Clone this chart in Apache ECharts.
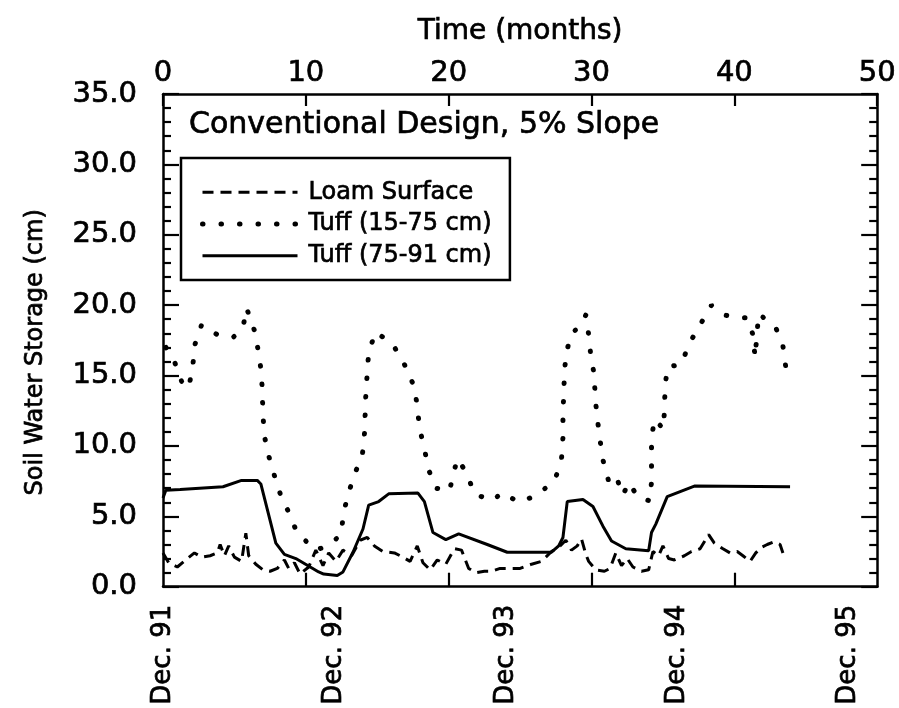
<!DOCTYPE html>
<html>
<head>
<meta charset="utf-8">
<script src="https://cdn.jsdelivr.net/npm/echarts@6/dist/echarts.min.js"></script>
<style>
  html, body { margin: 0; padding: 0; background: #fff; }
  #chart { width: 899px; height: 708px; }
</style>
</head>
<body>
<div id="chart"></div>
<script>
// [month, storage cm]
var loamSurface = [
    [0, 2.4], [0.4, 1.7], [1.0, 1.4], [1.7, 2.0], [2.2, 2.4], [2.7, 2.1], [3.3, 2.2], [3.8, 2.4],
    [4.0, 3.0], [4.3, 2.2], [4.6, 2.9], [5.0, 2.1], [5.5, 1.8], [5.8, 3.8], [6.0, 2.2], [6.5, 1.6],
    [7.0, 1.2], [7.5, 1.1], [8.0, 1.3], [8.5, 1.9], [8.8, 1.3], [9.2, 1.7], [9.6, 0.9], [10.2, 1.4],
    [10.7, 2.6], [11.2, 1.5], [11.6, 2.4], [12.1, 1.8], [12.6, 2.6], [13.2, 2.2], [13.8, 3.3], [14.3, 3.5],
    [14.8, 2.9], [15.4, 2.5], [16.2, 2.4], [16.8, 2.1], [17.3, 1.8], [17.8, 2.9], [18.2, 1.7], [18.7, 1.2],
    [19.2, 1.9], [19.8, 1.6], [20.4, 2.7], [20.9, 2.6], [21.4, 1.3], [21.9, 1.0], [22.5, 1.1], [23.0, 1.1],
    [23.6, 1.3], [24.3, 1.3], [25.0, 1.3], [25.8, 1.6], [26.5, 1.8], [27.2, 2.5], [27.8, 2.9], [28.2, 3.3],
    [28.6, 2.6], [29.0, 2.9], [29.3, 3.4], [29.6, 2.3], [29.8, 1.8], [30.3, 1.2], [30.9, 1.1], [31.3, 1.3],
    [31.7, 2.4], [32.1, 1.5], [32.5, 2.0], [32.9, 1.4], [33.5, 1.1], [34.0, 1.2], [34.3, 2.5], [34.7, 2.2],
    [35.0, 2.9], [35.4, 2.0], [35.8, 1.9], [36.5, 2.2], [37.0, 2.5], [37.6, 2.7], [38.2, 3.7], [38.6, 3.1],
    [39.2, 2.7], [39.7, 2.4], [40.2, 2.5], [40.6, 2.2], [41.1, 1.8], [41.5, 2.4], [41.9, 2.8], [42.3, 3.0],
    [42.8, 3.2], [43.2, 3.0], [43.4, 2.4]
];

var tuffUpper = [
    [0.2, 17.0], [0.8, 16.0], [1.3, 14.6], [1.8, 14.1], [2.1, 15.8], [2.2, 17.1], [2.7, 18.6], [3.8, 17.9],
    [4.9, 17.7], [5.6, 18.4], [5.85, 19.8], [6.4, 18.2], [6.7, 16.6], [6.9, 15.1], [6.95, 13.8], [7.0, 12.2],
    [7.1, 10.7], [7.4, 9.3], [7.8, 7.9], [8.3, 6.3], [8.8, 5.3], [9.4, 3.8], [10.7, 2.6], [11.5, 2.9],
    [12.5, 3.7], [12.6, 5.1], [13.0, 6.7], [13.45, 8.1], [13.95, 9.3], [14.1, 10.8], [14.15, 12.2], [14.2, 13.7],
    [14.3, 15.2], [14.4, 16.7], [14.9, 18.1], [16.1, 17.2], [16.9, 15.8], [17.55, 14.3], [17.8, 12.9], [17.95, 11.3],
    [18.3, 9.8], [18.6, 8.3], [19.1, 7.0], [20.05, 6.8], [20.6, 9.1], [21.25, 8.1], [21.8, 6.6], [23.05, 6.1],
    [23.75, 6.7], [24.9, 6.0], [26.2, 6.5], [27.45, 7.6], [27.9, 9.1], [28.0, 10.6], [28.0, 12.1], [28.05, 13.6],
    [28.1, 15.0], [28.2, 16.5], [28.6, 18.0], [29.2, 18.5], [29.6, 19.3], [29.8, 17.9], [29.95, 16.4], [30.2, 15.0],
    [30.25, 13.5], [30.4, 12.0], [30.6, 10.4], [30.8, 9.0], [31.2, 7.5], [31.7, 7.9], [32.2, 6.5], [32.6, 7.4],
    [33.3, 6.3], [34.1, 6.1], [34.2, 7.5], [34.2, 9.0], [34.2, 10.5], [34.4, 11.9], [35.05, 11.2], [35.1, 12.6],
    [35.15, 14.1], [35.3, 15.6], [36.3, 15.8], [36.8, 17.2], [37.6, 18.6], [38.4, 20.0], [39.3, 19.3], [40.4, 19.1],
    [40.9, 19.1], [41.3, 17.9], [41.45, 16.3], [41.7, 19.4], [42.9, 18.4], [43.4, 17.1], [43.6, 15.6]
];

var tuffLower = [
    [0, 6.3], [0.2, 6.85], [1.2, 6.9], [4.2, 7.1], [5.5, 7.55], [6.6, 7.55], [6.85, 7.3], [7.9, 3.1],
    [8.5, 2.3], [9.3, 2.0], [10.9, 1.05], [11.25, 0.9], [12.2, 0.8], [12.6, 1.05], [13.3, 2.45], [14.0, 4.1],
    [14.4, 5.8], [15.1, 6.05], [15.8, 6.6], [17.85, 6.65], [18.3, 6.05], [18.9, 3.85], [19.8, 3.35], [20.7, 3.75],
    [22.7, 3.0], [24.1, 2.45], [27.2, 2.45], [27.7, 2.9], [28.0, 3.5], [28.3, 6.05], [29.4, 6.2], [30.1, 5.7],
    [30.8, 4.3], [31.4, 3.25], [32.4, 2.7], [34.0, 2.55], [34.2, 3.85], [34.5, 4.45], [35.3, 6.4], [37.2, 7.15],
    [43.9, 7.1]
];

var seriesNames = ['Loam Surface', 'Tuff (15-75 cm)', 'Tuff (75-91 cm)'];
var decTicks = [0, 12, 24, 36, 48];
var decLabels = ['Dec. 91', 'Dec. 92', 'Dec. 93', 'Dec. 94', 'Dec. 95'];
var monthTicks = [10, 20, 30, 40];

var FONT = 'DejaVu Sans';
var INK = '#000';

// the scan has heavy strokes, a thin outline thickens the glyphs a little
function txt(size) {
    return {
        fontFamily: FONT, fontSize: size, color: INK,
        textBorderColor: INK, textBorderWidth: 0.7
    };
}

var chart = echarts.init(document.getElementById('chart'));

var frameLine = { show: true, onZero: false, lineStyle: { color: INK, width: 2.5 } };
var tickStyle = { color: INK, width: 2.2 };

chart.setOption({
    animation: false,
    backgroundColor: '#fff',
    title: {
        text: 'Conventional Design, 5% Slope',
        left: 189,
        top: 110,
        padding: 0,
        textStyle: echarts.util.extend({ fontWeight: 'normal' }, txt(30))
    },
    legend: {
        data: seriesNames,
        orient: 'vertical',
        left: 181,
        top: 158,
        padding: [22, 18, 12, 19],
        itemGap: 7,
        itemWidth: 95,
        itemHeight: 14,
        borderColor: INK,
        borderWidth: 2.5,
        borderRadius: 0,
        backgroundColor: '#fff',
        itemStyle: { opacity: 0 },
        lineStyle: { width: 'inherit' },
        textStyle: echarts.util.extend({ padding: [0, 0, 0, 6] }, txt(24))
    },
    grid: { left: 163, right: 17, top: 94, bottom: 113 },
    xAxis: [{
        type: 'value',
        position: 'top',
        min: 0,
        max: 50,
        interval: 10,
        name: 'Time (months)',
        nameLocation: 'middle',
        nameGap: 48,
        nameTextStyle: txt(28),
        axisLine: frameLine,
        axisTick: { show: true, inside: true, length: 12, lineStyle: tickStyle },
        axisLabel: echarts.util.extend({ margin: 6 }, txt(29)),
        splitLine: { show: false }
    }, {
        type: 'value',
        position: 'bottom',
        min: 0,
        max: 50,
        axisLine: frameLine,
        axisTick: { show: true, inside: true, length: 14, customValues: monthTicks, lineStyle: tickStyle },
        axisLabel: echarts.util.extend({
            customValues: decTicks,
            rotate: 90,
            margin: 18,
            formatter: function(v) {
                return decLabels[decTicks.indexOf(v)] || '';
            }
        }, txt(26)),
        splitLine: { show: false }
    }],
    yAxis: [{
        type: 'value',
        position: 'left',
        min: 0,
        max: 35,
        interval: 5,
        name: 'Soil Water Storage (cm)',
        nameLocation: 'middle',
        nameGap: 115,
        nameTextStyle: echarts.util.extend({ padding: [0, 24, 0, 0] }, txt(24)),
        axisLine: frameLine,
        axisTick: { show: true, inside: true, length: 16, lineStyle: tickStyle },
        minorTick: { show: true, splitNumber: 5, length: 8, lineStyle: tickStyle },
        axisLabel: echarts.util.extend({
            margin: 26,
            formatter: function(v) { return v.toFixed(1); }
        }, txt(29)),
        splitLine: { show: false },
        minorSplitLine: { show: false }
    }, {
        type: 'value',
        position: 'right',
        min: 0,
        max: 35,
        interval: 5,
        axisLine: frameLine,
        axisTick: { show: true, inside: true, length: 16, lineStyle: tickStyle },
        minorTick: { show: true, splitNumber: 5, length: 8, lineStyle: tickStyle },
        axisLabel: { show: false },
        splitLine: { show: false },
        minorSplitLine: { show: false }
    }],
    series: [{
        name: seriesNames[0],
        type: 'line',
        xAxisIndex: 1,
        symbol: 'none',
        data: loamSurface,
        lineStyle: { color: INK, width: 3, type: [11, 7] },
        itemStyle: { color: INK },
        z: 3
    }, {
        name: seriesNames[1],
        type: 'line',
        xAxisIndex: 1,
        symbol: 'none',
        data: tuffUpper,
        lineStyle: { color: INK, width: 5, type: [0.5, 18], cap: 'round' },
        itemStyle: { color: INK },
        z: 3
    }, {
        name: seriesNames[2],
        type: 'line',
        xAxisIndex: 1,
        symbol: 'none',
        data: tuffLower,
        lineStyle: { color: INK, width: 3 },
        itemStyle: { color: INK },
        z: 4
    }]
});
</script>
</body>
</html>
